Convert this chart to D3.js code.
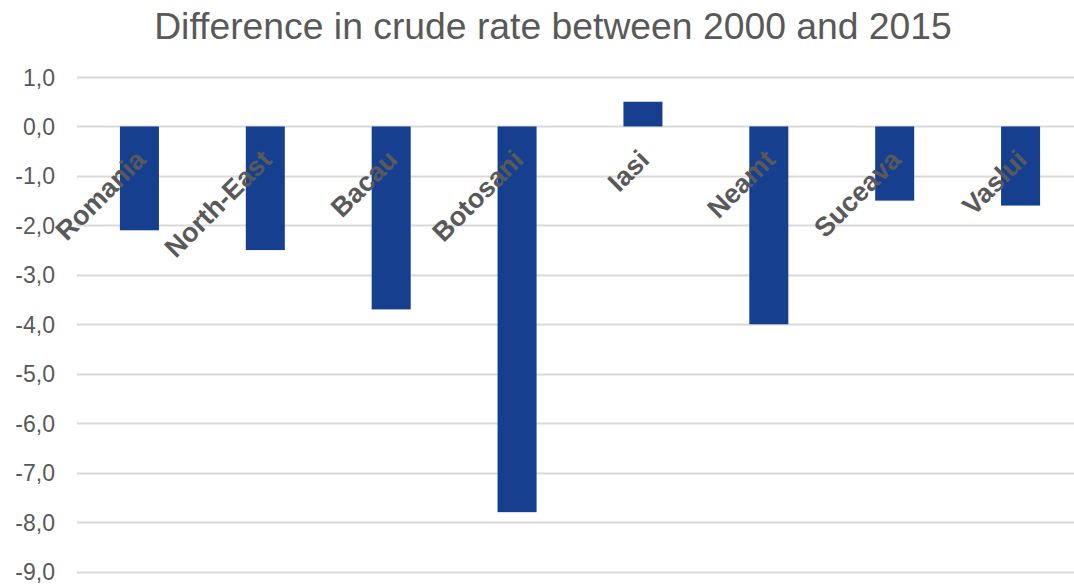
<!DOCTYPE html>
<html><head><meta charset="utf-8">
<script src="https://cdn.jsdelivr.net/npm/d3@7"></script>
<style>body{margin:0;background:#fff}svg{display:block}</style>
</head><body>
<svg id="chart" width="1074" height="586"></svg>
<script>
const categories = ["Romania","North-East","Bacau","Botosani","Iasi","Neamt","Suceava","Vaslui"];
const values = [-2.1,-2.5,-3.7,-7.8,0.5,-4.0,-1.5,-1.6];
const yTicks = [1,0,-1,-2,-3,-4,-5,-6,-7,-8,-9];
const title = "Difference in crude rate between 2000 and 2015";

const svg = d3.select("#chart");
const W = 1074, H = 586;
const font = "'Liberation Sans', Arial, sans-serif";
const grey = "#595959";

const y = d3.scaleLinear().domain([-9,1]).range([571.5,77]);
const x = d3.scaleBand().domain(categories).range([76.5,1083.5]).padding(0);
const barW = x.bandwidth()*0.31;

svg.append("text").attr("x",553).attr("y",39).attr("text-anchor","middle")
  .attr("font-family",font).attr("font-size",37.3).attr("fill",grey).text(title);

// gridlines
svg.append("g").selectAll("line").data(yTicks).join("line")
  .attr("x1",77).attr("x2",W).attr("y1",d=>Math.round(y(d))+0.5).attr("y2",d=>Math.round(y(d))+0.5)
  .attr("stroke","#d9d9d9").attr("stroke-width",2);

// y axis labels
const yAxis = d3.axisLeft(y).tickValues(yTicks).tickSize(0).tickPadding(0)
  .tickFormat(d=>d3.format(".1f")(d).replace(".",",").replace("−","-"));
const gy = svg.append("g").attr("transform","translate(55,0)").call(yAxis);
gy.select(".domain").remove();
gy.selectAll("text").attr("font-family",font).attr("font-size",23).attr("fill",grey).attr("dy","0.35em");

// bars
svg.append("g").selectAll("rect").data(values).join("rect")
  .attr("x",(d,i)=>x(categories[i])+x.bandwidth()/2-barW/2)
  .attr("width",barW)
  .attr("y",d=>y(Math.max(0,d)))
  .attr("height",d=>Math.abs(y(d)-y(0)))
  .attr("fill","#16408f");

// category labels
svg.append("g").selectAll("text").data(categories).join("text")
  .attr("transform",d=>`translate(${x(d)+x.bandwidth()/2+8},${y(0)+35}) rotate(-45)`)
  .attr("text-anchor","end")
  .attr("font-family",font).attr("font-size",27).attr("font-weight","bold").attr("fill",grey)
  .text(d=>d);
</script>
</body></html>
